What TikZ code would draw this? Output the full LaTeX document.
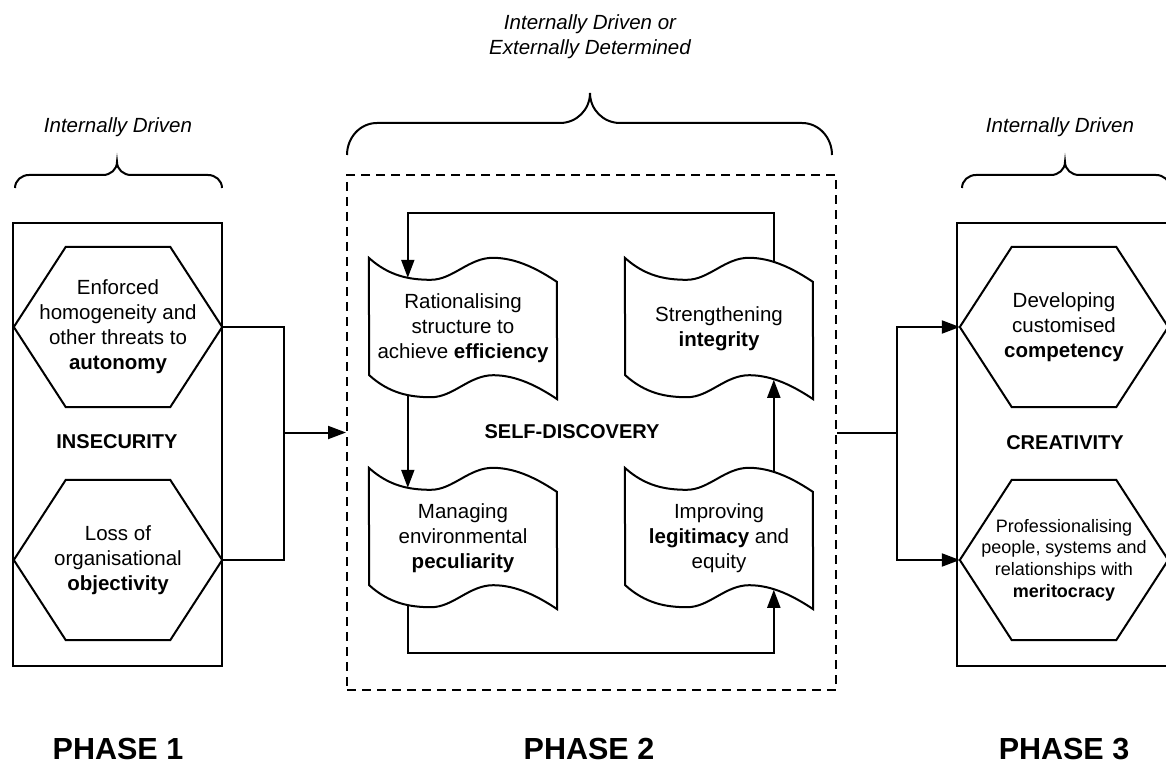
\documentclass[tikz,border=0pt]{standalone}
\usepackage{fontspec}
\setmainfont{Liberation Sans}
\usetikzlibrary{arrows.meta,calc}

\tikzset{
  line/.style={line width=2pt},
  arr/.style={line width=2pt, -{Triangle[length=18pt,width=13pt]}},
  txt/.style={font=\fontsize{20.5}{25}\selectfont, align=center, inner sep=0pt},
  hexbox/.style={txt, minimum width=208pt, minimum height=160pt},
  docbox/.style={txt, minimum width=188pt, minimum height=141pt},
  phase/.style={font=\fontsize{30.5}{36}\selectfont\bfseries, anchor=base},
  state/.style={font=\fontsize{20}{24}\selectfont\bfseries, anchor=base},
  origin/.style={txt, font=\fontsize{20.5}{25}\selectfont\itshape},
}

% hexagon round a named node
\newcommand{\drawhex}[1]{%
  \draw[line] (#1.west) -- ($(#1.north west)+(52,0)$) -- ($(#1.north east)+(-52,0)$)
    -- (#1.east) -- ($(#1.south east)+(-52,0)$) -- ($(#1.south west)+(52,0)$) -- cycle;}

% wavy sheet round a named node, with its connection points
\newcommand{\drawdoc}[1]{%
  \draw[line] (#1.north west)
    .. controls +(20,18) and +(-22,0) .. ++(62,22)
    .. controls +(22,0) and +(-24,0) .. ++(62,-22)
    .. controls +(24,0) and +(-18,-12) .. ++(64,24)
    -- (#1.south east)
    .. controls +(-18,-12) and +(24,0) .. ++(-64,-24)
    .. controls +(-24,0) and +(22,0) .. ++(-62,22)
    .. controls +(-22,0) and +(20,18) .. ++(-62,-22)
    -- cycle;
  \coordinate (#1-ta) at ($(#1.north west)+(39,20)$);
  \coordinate (#1-tb) at ($(#1.north west)+(149,5)$);
  \coordinate (#1-ba) at ($(#1.north west)+(39,137)$);
  \coordinate (#1-bb) at ($(#1.north west)+(149,122)$);}

% curly bracket: x left, x tip, x right, y ends, y bar, y tip, radius
\newcommand{\bracket}[7]{%
  \draw[line] (#1,#4) to[out=90,in=180] ($(#1,#5)+(#7,0)$) -- ($(#2,#5)+(-#7,0)$)
    to[out=0,in=-90] (#2,#6) to[out=-90,in=180] ($(#2,#5)+(#7,0)$)
    -- ($(#3,#5)+(-#7,0)$) to[out=0,in=90] (#3,#4);}

\begin{document}
\begin{tikzpicture}[x=1pt,y=-1pt]
  \useasboundingbox (0,0) rectangle (1166,767);

  % Titles over the phases
  \node[origin] (drv1) at (118,127) {Internally Driven};
  \node[origin] (drv2) at (590,37) {Internally Driven or\\Externally Determined};
  \node[origin] (drv3) at (1060,127) {Internally Driven};
  \bracket{15}{117}{222}{188}{175}{162}{14}
  \bracket{347}{590}{832}{155}{123}{93}{30}
  \bracket{962}{1065}{1170}{188}{175}{162}{14}

  % Phase 1
  \draw[line] (13,223) rectangle (222,666);
  \node[hexbox] (h1) at (118,327) {Enforced\\homogeneity and\\other threats to\\\textbf{autonomy}};
  \node[hexbox] (h2) at (118,560) {Loss of\\organisational\\\textbf{objectivity}};
  \drawhex{h1} \drawhex{h2}
  \node[state] (insec) at (117,448) {INSECURITY};

  % Phase 2
  \node[line, draw, dash pattern=on 9pt off 6pt, minimum width=489pt, minimum height=515pt] (sd) at (591.5,432.5) {};
  \node[state] (selfd) at (572,438) {SELF-DISCOVERY};
  \node[docbox] (d1) at (463,328.5) {Rationalising\\structure to\\achieve \textbf{efficiency}};
  \node[docbox] (d2) at (719,328.5) {Strengthening\\\textbf{integrity}};
  \node[docbox] (d3) at (463,538.5) {Managing\\environmental\\\textbf{peculiarity}};
  \node[docbox] (d4) at (719,538.5) {Improving\\\textbf{legitimacy} and\\equity};
  \drawdoc{d1} \drawdoc{d2} \drawdoc{d3} \drawdoc{d4}

  % Phase 3
  \draw[line] (957,223) rectangle (1172,666);
  \node[hexbox] (h3) at (1064,327) {Developing\\customised\\\textbf{competency}};
  \node[hexbox, font=\fontsize{18}{21.7}\selectfont] (h4) at (1064,560) {Professionalising\\people, systems and\\relationships with\\\textbf{meritocracy}};
  \drawhex{h3} \drawhex{h4}
  \node[state] (creat) at (1065,449) {CREATIVITY};

  % Connectors between phases
  \coordinate (ljoin) at (284,432.5);
  \coordinate (rjoin) at (897,432.5);
  \draw[line] (h1.east) -| (ljoin) |- (h2.east);
  \draw[arr] (ljoin) -- (sd.west);
  \draw[line] (sd.east) -- (rjoin);
  \draw[arr] (rjoin) |- (h3.west);
  \draw[arr] (rjoin) |- (h4.west);

  % Cycle inside phase 2
  \coordinate (looptop) at (591,213);
  \coordinate (loopbot) at (591,653);
  \draw[arr] (d2-tb) |- (looptop) -| (d1-ta);
  \draw[arr] (d1-ba) -- (d3-ta);
  \draw[arr] (d3-ba) |- (loopbot) -| (d4-bb);
  \draw[arr] (d4-tb) -- (d2-bb);

  % Phase names
  \node[phase] (p1) at (118,759) {PHASE 1};
  \node[phase] (p2) at (589,759) {PHASE 2};
  \node[phase] (p3) at (1064,759) {PHASE 3};
\end{tikzpicture}
\end{document}
